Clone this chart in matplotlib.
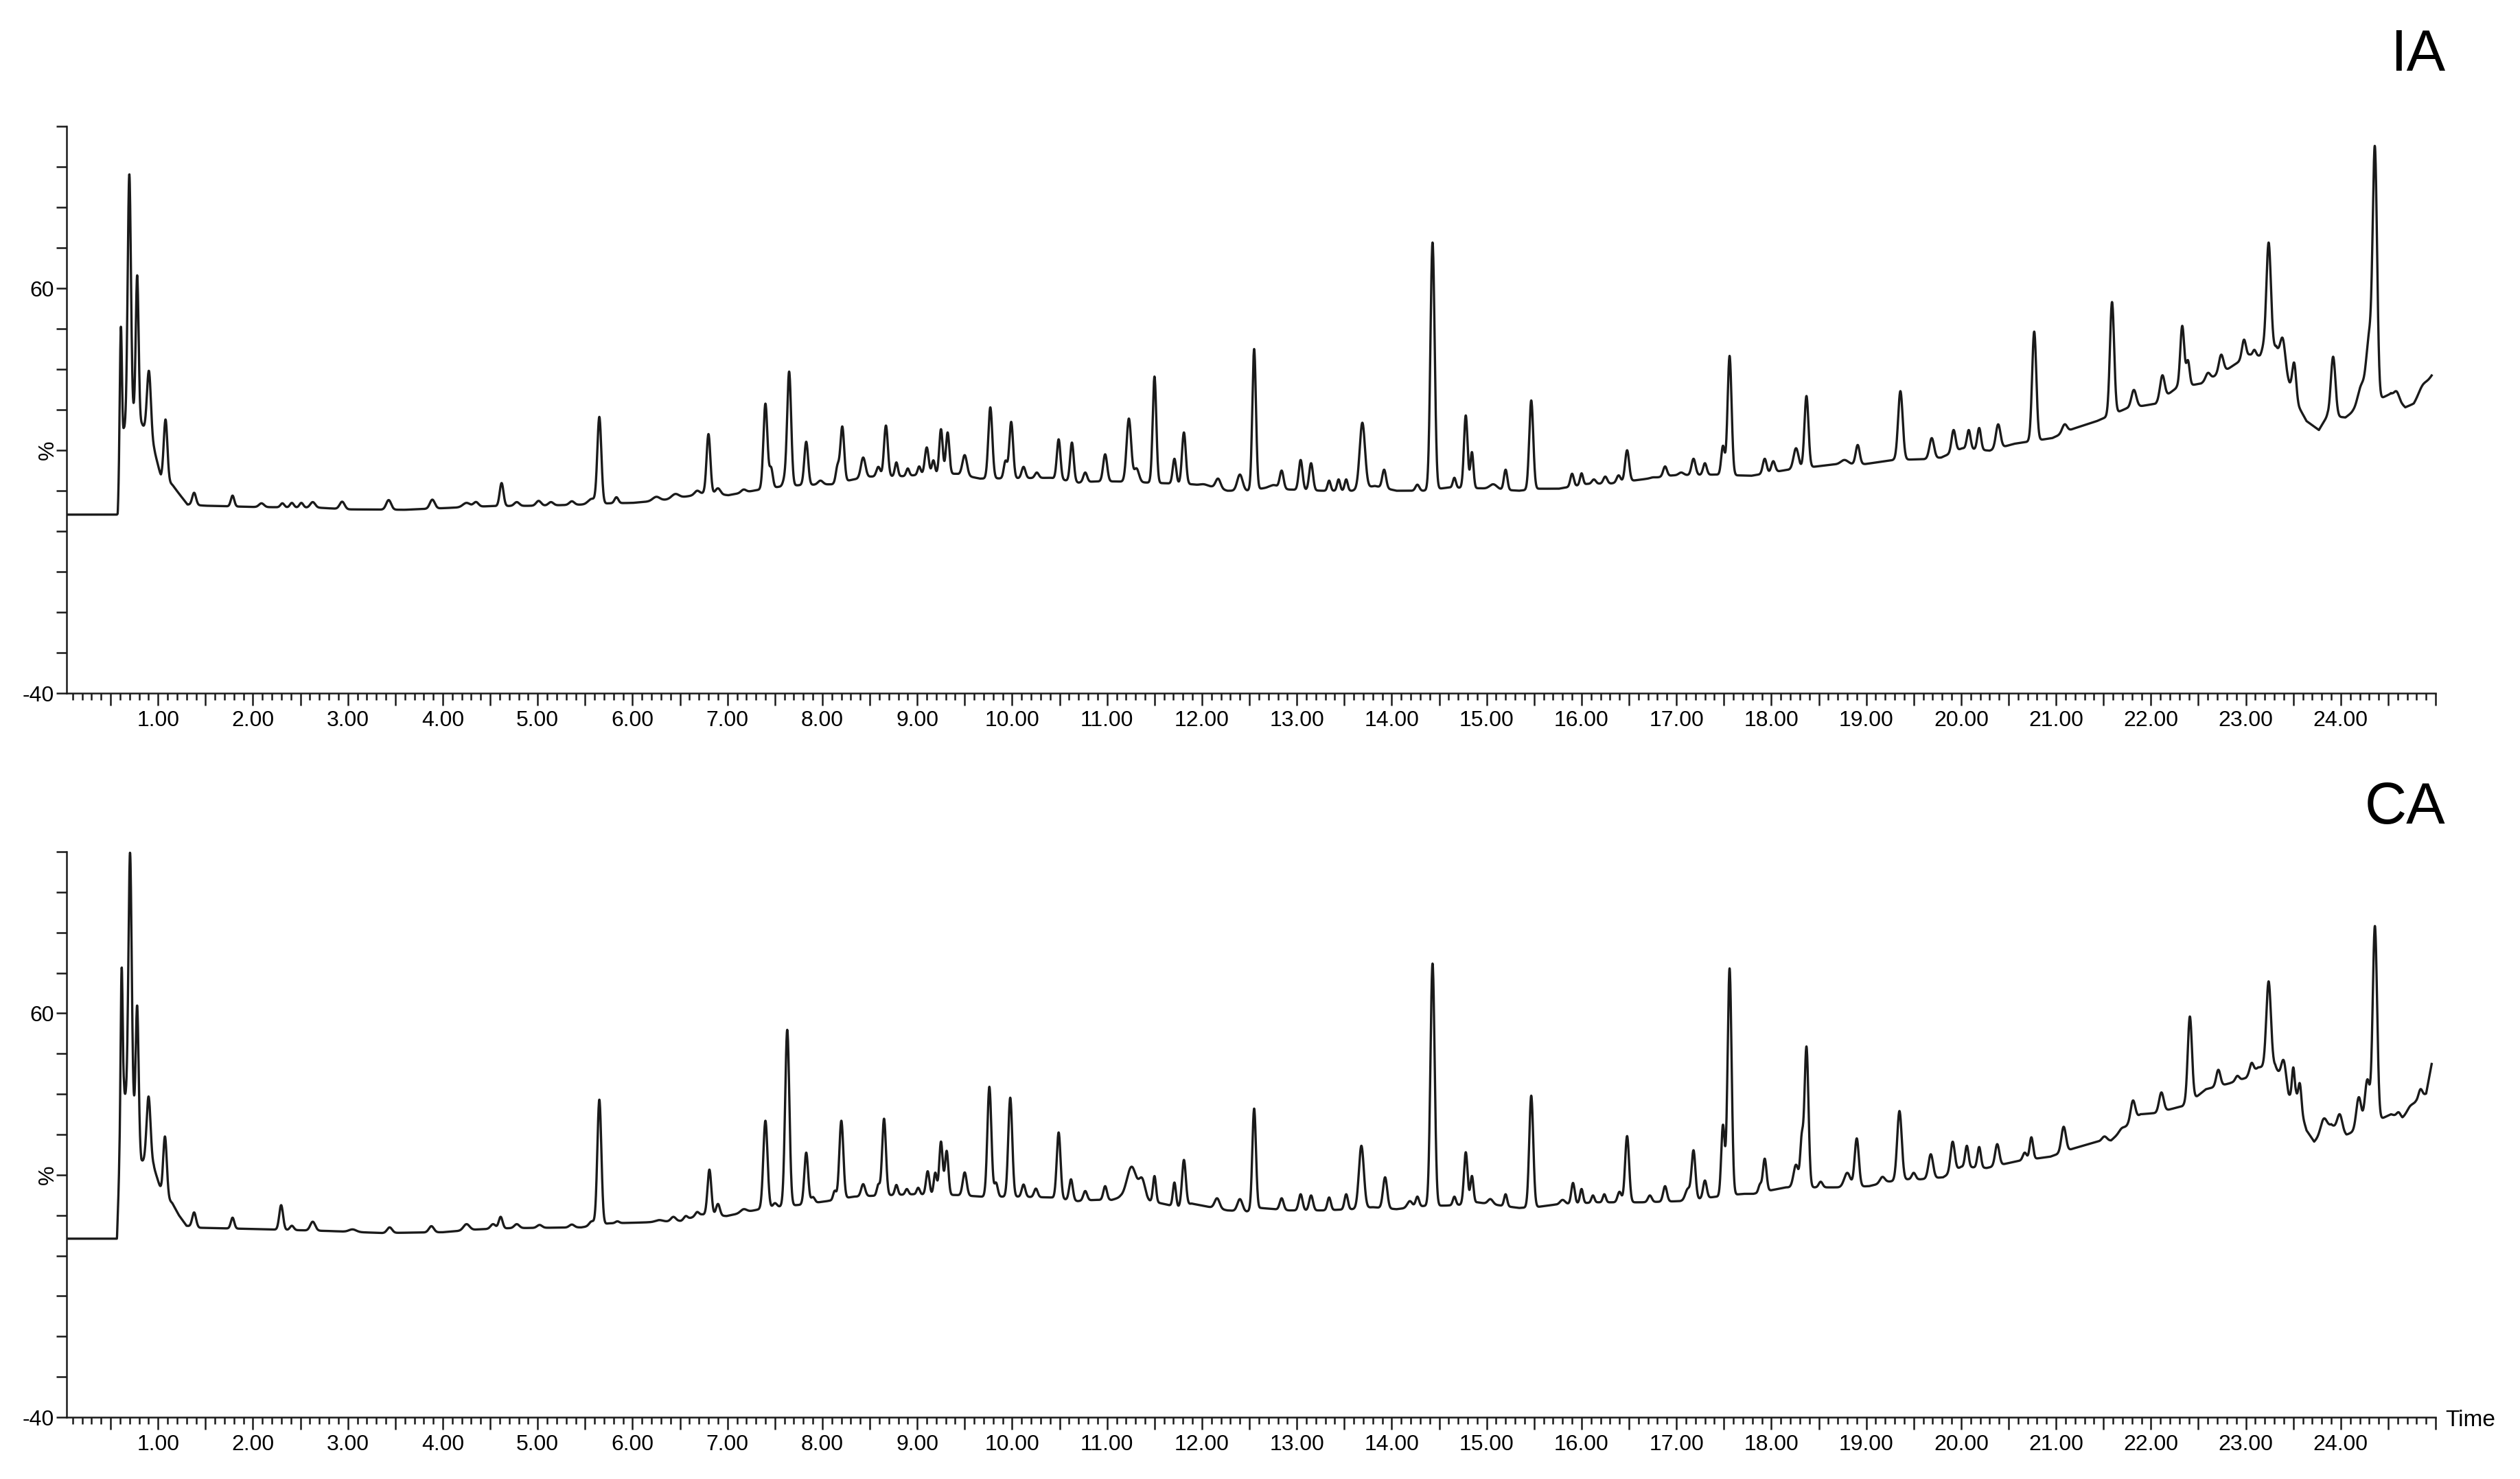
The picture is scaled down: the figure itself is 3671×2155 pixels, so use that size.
import numpy as np
import matplotlib
matplotlib.use('Agg')
import matplotlib.pyplot as plt
from matplotlib.ticker import MultipleLocator, FixedLocator, FuncFormatter

plt.rcParams['font.family'] = ['Liberation Sans', 'DejaVu Sans']

panel_names = ['IA', 'CA']
x_title = 'Time'
y_title = '%'
y_ticks = list(range(-40, 101, 10))
y_tick_labels = {60: '60', -40: '-40'}
x_label_ticks = list(range(1, 25))

# valley line under the peaks: (time min, signal %)
ia_base = [
    (0.0, 4.1), (0.575, 4.1), (0.595, 15), (0.64, 25), (0.745, 28.5), (0.83, 26.5),
    (0.96, 20), (1.03, 13.5), (1.15, 11.5), (1.22, 9.3), (1.31, 6.6), (1.5, 6.3),
    (2.0, 6.0), (2.7, 5.8), (3.0, 5.4), (3.6, 5.3), (4.0, 5.7), (4.5, 6.2),
    (5.0, 6.3), (5.5, 6.6), (5.75, 6.9), (6.0, 7.0), (6.3, 7.6), (6.6, 8.7),
    (6.75, 9.4), (7.01, 8.9), (7.32, 10.2), (7.55, 11.0), (7.77, 11.4), (8.1, 11.6),
    (8.33, 12.8), (8.51, 13.5), (8.85, 13.6), (9.05, 14.0), (9.41, 14.2), (9.66, 13.0),
    (10.06, 13.1), (10.41, 13.2), (10.70, 12.0), (10.87, 12.3), (11.10, 12.3), (11.44, 12.0),
    (11.89, 11.6), (12.10, 11.0), (12.27, 10.0), (12.47, 10.0), (12.70, 10.8), (12.92, 10.3),
    (13.27, 10.0), (13.58, 10.0), (13.82, 11.2), (14.05, 10.0), (14.33, 10.0), (14.60, 10.8),
    (14.95, 10.6), (15.34, 10.0), (15.55, 10.5), (15.76, 10.5), (16.06, 11.7), (16.31, 11.8),
    (16.64, 12.8), (16.96, 13.8), (17.42, 14.0), (17.64, 13.8), (17.79, 13.7), (18.15, 15.1),
    (18.44, 15.9), (18.66, 16.5), (18.99, 16.6), (19.29, 17.6), (19.61, 17.8), (19.79, 18.2),
    (20.01, 20.5), (20.30, 19.9), (20.56, 21.6), (20.96, 23.0), (21.18, 25.3), (21.43, 27.2),
    (21.74, 30.3), (22.05, 31.5), (22.27, 35.4), (22.53, 36.5), (22.82, 40.2), (23.04, 43.6),
    (23.15, 43.3), (23.32, 45.5), (23.46, 36.3), (23.56, 30.6), (23.64, 27.2), (23.77, 25.0),
    (23.86, 28.5), (24.05, 28.1), (24.13, 29.5), (24.53, 34.0), (24.68, 30.6), (24.77, 31.5),
    (24.96, 38.5),
]

# peaks: (retention time min, apex %, width min)
ia_peaks = [
    (0.608, 50.5, 0.011), (0.697, 88.2, 0.017), (0.780, 63.2, 0.015), (0.904, 39.6, 0.021),
    (1.079, 27.6, 0.019), (1.380, 9.5, 0.02), (1.785, 8.8, 0.018), (2.090, 6.9, 0.026),
    (2.310, 6.9, 0.02), (2.410, 7.0, 0.02), (2.510, 7.0, 0.02), (2.630, 7.2, 0.026),
    (2.940, 7.3, 0.026), (3.430, 7.7, 0.026), (3.890, 7.8, 0.026), (4.250, 7.0, 0.038),
    (4.350, 7.2, 0.026), (4.620, 11.9, 0.02), (4.780, 7.2, 0.026), (5.010, 7.5, 0.026),
    (5.140, 7.2, 0.026), (5.360, 7.4, 0.026), (5.570, 8.0, 0.038), (5.650, 28.1, 0.021),
    (5.830, 8.4, 0.02), (6.250, 8.5, 0.038), (6.450, 9.2, 0.038), (6.680, 10.0, 0.026),
    (6.800, 24.0, 0.02), (6.900, 10.6, 0.026), (7.170, 10.3, 0.026), (7.400, 31.5, 0.021),
    (7.460, 15.5, 0.018), (7.600, 12.5, 0.018), (7.650, 39.4, 0.021), (7.830, 22.1, 0.02),
    (7.980, 12.5, 0.026), (8.160, 16.0, 0.018), (8.210, 25.8, 0.02), (8.430, 18.2, 0.024),
    (8.590, 15.9, 0.02), (8.670, 26.1, 0.02), (8.780, 17.0, 0.016), (8.900, 15.5, 0.016),
    (9.020, 16.0, 0.016), (9.100, 20.7, 0.02), (9.170, 17.5, 0.016), (9.250, 25.2, 0.018),
    (9.320, 24.4, 0.018), (9.500, 18.8, 0.024), (9.770, 30.6, 0.021), (9.930, 17.3, 0.018),
    (9.990, 27.0, 0.02), (10.120, 15.9, 0.02), (10.260, 14.5, 0.02), (10.490, 22.7, 0.019),
    (10.630, 21.9, 0.019), (10.770, 14.5, 0.02), (10.980, 19.0, 0.021), (11.230, 27.8, 0.024),
    (11.310, 15.5, 0.026), (11.500, 38.2, 0.019), (11.710, 17.9, 0.018), (11.810, 24.4, 0.02),
    (12.020, 11.6, 0.038), (12.170, 13.0, 0.026), (12.400, 14.0, 0.028), (12.550, 45.0, 0.019),
    (12.760, 11.4, 0.038), (12.840, 14.9, 0.02), (13.040, 17.6, 0.02), (13.150, 16.8, 0.02),
    (13.340, 12.5, 0.016), (13.440, 12.8, 0.016), (13.520, 12.8, 0.016), (13.690, 26.8, 0.028),
    (13.920, 15.2, 0.02), (14.270, 11.5, 0.02), (14.430, 71.3, 0.022), (14.660, 13.2, 0.016),
    (14.780, 28.6, 0.019), (14.845, 19.5, 0.016), (15.070, 11.6, 0.038), (15.200, 15.2, 0.018),
    (15.470, 32.3, 0.021), (15.900, 14.2, 0.018), (16.000, 14.3, 0.016), (16.130, 12.8, 0.02),
    (16.250, 13.5, 0.02), (16.390, 13.8, 0.02), (16.480, 20.0, 0.021), (16.750, 13.3, 0.026),
    (16.880, 16.0, 0.02), (17.050, 14.5, 0.026), (17.180, 17.9, 0.021), (17.300, 16.8, 0.019),
    (17.490, 21.0, 0.018), (17.560, 43.3, 0.021), (17.930, 17.9, 0.02), (18.020, 17.3, 0.02),
    (18.260, 20.5, 0.026), (18.370, 33.4, 0.021), (18.770, 17.6, 0.038), (18.910, 21.3, 0.021),
    (19.360, 34.6, 0.024), (19.690, 23.0, 0.024), (19.920, 25.0, 0.021), (20.080, 25.0, 0.019),
    (20.190, 25.5, 0.019), (20.390, 26.4, 0.024), (20.770, 49.3, 0.022), (21.090, 26.4, 0.026),
    (21.590, 56.6, 0.022), (21.820, 34.9, 0.026), (22.120, 38.5, 0.024), (22.330, 50.7, 0.021),
    (22.390, 42.0, 0.018), (22.600, 39.1, 0.024), (22.740, 43.6, 0.024), (22.980, 47.3, 0.021),
    (23.090, 44.8, 0.016), (23.180, 44.8, 0.016), (23.240, 71.3, 0.024), (23.390, 47.6, 0.026),
    (23.510, 41.6, 0.02), (23.920, 43.1, 0.024), (24.220, 36.0, 0.04), (24.300, 47.0, 0.03),
    (24.360, 93.0, 0.023), (24.590, 34.5, 0.026), (24.860, 36.0, 0.038),
]

ca_base = [
    (0.0, 4.2), (0.567, 4.2), (0.59, 20), (0.641, 40), (0.746, 34), (0.824, 23.5),
    (0.954, 22), (1.04, 15.5), (1.15, 13), (1.22, 10), (1.30, 7.4), (1.44, 6.9),
    (2.0, 6.6), (2.8, 6.1), (3.36, 5.6), (4.0, 5.8), (4.37, 6.5), (4.70, 6.8),
    (5.46, 7.0), (5.75, 8.0), (6.10, 8.2), (6.51, 8.6), (6.73, 10.2), (6.99, 9.8),
    (7.32, 11.4), (7.53, 12.1), (7.77, 12.6), (8.05, 13.5), (8.33, 14.6), (8.52, 14.8),
    (8.96, 15.2), (9.42, 15.0), (9.68, 14.6), (10.06, 14.6), (10.41, 14.4), (10.69, 13.5),
    (10.87, 13.8), (11.05, 13.8), (11.14, 14.4), (11.44, 13.5), (11.56, 13.0), (11.75, 12.0),
    (11.89, 12.9), (12.02, 12.3), (12.27, 11.2), (12.47, 10.9), (12.62, 11.8), (12.92, 11.2),
    (13.27, 11.2), (13.58, 11.5), (13.80, 12.0), (14.05, 11.5), (14.34, 12.3), (14.58, 12.4),
    (14.72, 12.6), (14.90, 13.2), (15.34, 11.8), (15.55, 12.1), (15.71, 12.6), (16.17, 13.2),
    (16.63, 13.2), (17.04, 13.5), (17.42, 14.6), (17.70, 15.3), (17.81, 15.3), (18.15, 16.9),
    (18.48, 16.9), (18.71, 16.9), (19.03, 17.2), (19.23, 18.3), (19.44, 18.9), (19.57, 18.9),
    (19.81, 19.4), (20.00, 22.0), (20.27, 21.7), (20.59, 23.4), (20.94, 24.5), (21.18, 26.5),
    (21.43, 28.2), (21.58, 28.5), (21.76, 32.4), (21.89, 35.0), (22.05, 35.3), (22.33, 37.0),
    (22.49, 39.5), (22.58, 41.2), (22.82, 42.6), (23.00, 44.0), (23.13, 46.6), (23.31, 47.0),
    (23.45, 39.2), (23.53, 39.8), (23.64, 31.0), (23.72, 28.2), (23.90, 32.4), (24.06, 29.9),
    (24.53, 35.0), (24.65, 34.1), (24.79, 38.1), (24.90, 40.1), (24.96, 47.7),
]

ca_peaks = [
    (0.616, 71.2, 0.011), (0.705, 99.8, 0.017), (0.780, 61.9, 0.015), (0.900, 39.4, 0.021),
    (1.073, 29.5, 0.019), (1.380, 10.7, 0.02), (1.785, 9.4, 0.018), (2.297, 12.5, 0.02),
    (2.410, 7.4, 0.02), (2.630, 8.4, 0.026), (3.050, 6.5, 0.038), (3.440, 7.0, 0.026),
    (3.880, 7.3, 0.026), (4.250, 7.8, 0.032), (4.530, 7.8, 0.026), (4.610, 9.6, 0.02),
    (4.780, 7.8, 0.026), (5.020, 7.6, 0.026), (5.360, 7.7, 0.026), (5.570, 8.5, 0.026),
    (5.650, 38.6, 0.021), (5.840, 8.5, 0.02), (6.280, 8.8, 0.038), (6.430, 9.6, 0.026),
    (6.560, 9.8, 0.02), (6.680, 10.8, 0.02), (6.810, 21.3, 0.02), (6.900, 12.8, 0.02),
    (7.170, 11.5, 0.032), (7.400, 33.4, 0.022), (7.500, 13.0, 0.02), (7.630, 55.9, 0.022),
    (7.830, 25.5, 0.02), (7.900, 14.5, 0.02), (8.130, 16.0, 0.016), (8.200, 33.4, 0.021),
    (8.430, 17.7, 0.021), (8.590, 17.5, 0.016), (8.650, 33.9, 0.02), (8.780, 17.5, 0.016),
    (8.890, 16.5, 0.016), (9.010, 16.8, 0.016), (9.110, 20.9, 0.018), (9.190, 20.5, 0.016),
    (9.250, 28.2, 0.018), (9.310, 25.9, 0.018), (9.500, 20.6, 0.021), (9.760, 41.8, 0.021),
    (9.830, 18.0, 0.018), (9.980, 39.1, 0.021), (10.120, 17.6, 0.019), (10.250, 16.6, 0.019),
    (10.490, 30.5, 0.02), (10.620, 18.9, 0.019), (10.770, 16.0, 0.02), (10.980, 17.2, 0.019),
    (11.260, 22.0, 0.05), (11.370, 18.5, 0.032), (11.500, 19.7, 0.016), (11.710, 18.1, 0.016),
    (11.810, 23.7, 0.02), (12.160, 14.2, 0.026), (12.400, 14.0, 0.026), (12.550, 36.4, 0.019),
    (12.840, 14.2, 0.02), (13.040, 15.2, 0.02), (13.150, 14.9, 0.02), (13.340, 14.4, 0.018),
    (13.520, 15.2, 0.018), (13.680, 27.2, 0.026), (13.930, 19.4, 0.022), (14.190, 13.5, 0.026),
    (14.270, 14.6, 0.018), (14.430, 72.3, 0.022), (14.660, 14.6, 0.016), (14.780, 25.6, 0.019),
    (14.845, 19.7, 0.016), (15.040, 14.0, 0.026), (15.200, 15.2, 0.016), (15.470, 39.6, 0.021),
    (15.800, 13.8, 0.026), (15.910, 18.0, 0.018), (16.000, 16.5, 0.016), (16.120, 14.9, 0.016),
    (16.240, 15.2, 0.016), (16.400, 15.8, 0.02), (16.480, 29.6, 0.021), (16.720, 14.9, 0.02),
    (16.880, 17.2, 0.02), (17.120, 16.5, 0.026), (17.180, 25.9, 0.02), (17.300, 18.6, 0.019),
    (17.490, 32.2, 0.018), (17.560, 71.1, 0.021), (17.880, 17.5, 0.016), (17.930, 24.0, 0.019),
    (18.260, 22.5, 0.026), (18.320, 27.9, 0.016), (18.370, 51.7, 0.021), (18.520, 18.3, 0.02),
    (18.800, 20.5, 0.032), (18.900, 29.0, 0.022), (19.170, 19.5, 0.026), (19.350, 35.8, 0.024),
    (19.500, 20.5, 0.02), (19.680, 25.1, 0.024), (19.910, 28.2, 0.022), (20.060, 27.2, 0.018),
    (20.190, 26.9, 0.018), (20.380, 27.6, 0.022), (20.670, 25.5, 0.02), (20.740, 29.3, 0.018),
    (21.080, 31.9, 0.024), (21.510, 29.5, 0.026), (21.690, 31.5, 0.026), (21.810, 38.4, 0.024),
    (22.110, 40.4, 0.024), (22.410, 59.2, 0.022), (22.710, 46.0, 0.022), (22.910, 44.5, 0.02),
    (23.060, 47.7, 0.02), (23.240, 67.9, 0.024), (23.400, 48.3, 0.026), (23.500, 46.6, 0.014),
    (23.570, 42.6, 0.016), (23.820, 33.9, 0.032), (23.990, 35.0, 0.026), (24.190, 39.2, 0.026),
    (24.280, 43.5, 0.026), (24.360, 81.5, 0.023), (24.610, 35.5, 0.02), (24.730, 37.0, 0.026),
    (24.840, 41.2, 0.02),
]


def trace(base, peaks, t):
    bt, bv = np.array(base).T
    y = np.interp(t, bt, bv)
    for tp, top, w in peaks:
        h = max(top - np.interp(tp, bt, bv), 0.0)
        y = y + h * np.exp(-0.5 * ((t - tp) / w) ** 2)
    return y


def x_fmt(v, pos):
    r = int(round(v))
    if abs(v - r) < 1e-6 and r in x_label_ticks:
        return f'{v:.2f}'
    return ''


def y_fmt(v, pos):
    return y_tick_labels.get(int(round(v)), '')


t = np.arange(0.0, 24.96, 0.002)
ink = '#1a1a1a'

fig = plt.figure(figsize=(36.71, 21.55), dpi=100)
boxes = [[0.02642, 0.5313, 0.9401, 0.3833], [0.02642, 0.04176, 0.9401, 0.3824]]
data = [(ia_base, ia_peaks), (ca_base, ca_peaks)]
name_y = [0.9522, 0.4432]

for box, (base, peaks), name, ny in zip(boxes, data, panel_names, name_y):
    ax = fig.add_axes(box)
    ax.plot(t, trace(base, peaks, t), color=ink, lw=2.4, solid_joinstyle='round')
    ax.set_xlim(0.036, 25.0)
    ax.set_ylim(-40, 100)
    for s in ['top', 'right']:
        ax.spines[s].set_visible(False)
    for s in ['left', 'bottom']:
        ax.spines[s].set_linewidth(1.8)
        ax.spines[s].set_color(ink)

    ax.xaxis.set_major_locator(MultipleLocator(0.5))
    ax.xaxis.set_minor_locator(MultipleLocator(0.1))
    ax.xaxis.set_major_formatter(FuncFormatter(x_fmt))
    ax.yaxis.set_major_locator(FixedLocator(y_ticks))
    ax.yaxis.set_major_formatter(FuncFormatter(y_fmt))
    ax.tick_params(axis='x', which='major', length=13, width=1.8, pad=5,
                   labelsize=23, color=ink, labelcolor='black')
    ax.tick_params(axis='x', which='minor', length=7, width=1.8, color=ink)
    ax.tick_params(axis='y', which='major', length=11, width=1.8, pad=2,
                   labelsize=23, color=ink, labelcolor='black')

    ax.text(-0.0078, 20, y_title, transform=ax.get_yaxis_transform(),
            rotation=90, ha='center', va='center', fontsize=23)
    fig.text(0.9703, ny, name, ha='right', va='baseline', fontsize=61)

fig.text(0.9703, 0.0357, x_title, ha='left', va='baseline', fontsize=24)

fig.savefig('out.png', dpi=100)
